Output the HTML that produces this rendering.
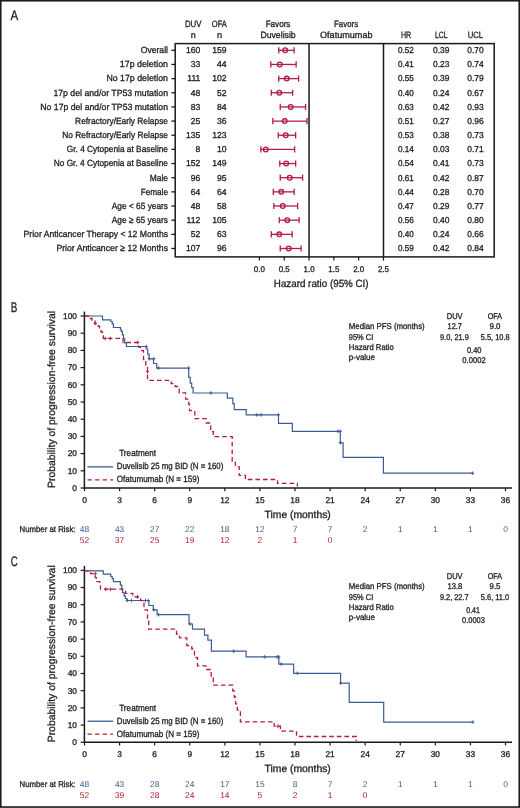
<!DOCTYPE html>
<html><head><meta charset="utf-8"><title>Figure</title>
<style>
html,body{margin:0;padding:0;background:#fff;}
body{width:520px;height:808px;overflow:hidden;}
svg{display:block;font-family:"Liberation Sans", sans-serif;will-change:transform;text-rendering:geometricPrecision;}
text{stroke-width:0.3px;}

</style></head><body>
<svg width="520" height="808" viewBox="0 0 520 808" fill="#1e1e1e" stroke="none">
<rect width="520" height="808" fill="#fff"/>
<text x="10.60" y="19.80" font-size="13.8" textLength="7.70" lengthAdjust="spacingAndGlyphs" stroke="#1e1e1e">A</text>
<text x="184.90" y="26.60" font-size="9.1" textLength="16.60" lengthAdjust="spacingAndGlyphs" stroke="#1e1e1e">DUV</text>
<text x="190.80" y="37.70" font-size="9.1" textLength="5.00" lengthAdjust="spacingAndGlyphs" stroke="#1e1e1e">n</text>
<text x="211.80" y="26.60" font-size="9.1" textLength="15.10" lengthAdjust="spacingAndGlyphs" stroke="#1e1e1e">OFA</text>
<text x="216.90" y="37.70" font-size="9.1" textLength="5.10" lengthAdjust="spacingAndGlyphs" stroke="#1e1e1e">n</text>
<text x="265.70" y="26.60" font-size="9.1" textLength="24.70" lengthAdjust="spacingAndGlyphs" stroke="#1e1e1e">Favors</text>
<text x="260.40" y="37.70" font-size="9.1" textLength="35.30" lengthAdjust="spacingAndGlyphs" stroke="#1e1e1e">Duvelisib</text>
<text x="334.00" y="26.60" font-size="9.1" textLength="24.10" lengthAdjust="spacingAndGlyphs" stroke="#1e1e1e">Favors</text>
<text x="320.00" y="37.70" font-size="9.1" textLength="52.50" lengthAdjust="spacingAndGlyphs" stroke="#1e1e1e">Ofatumumab</text>
<text x="400.90" y="37.70" font-size="9.1" textLength="10.30" lengthAdjust="spacingAndGlyphs" stroke="#1e1e1e">HR</text>
<text x="435.00" y="37.70" font-size="9.1" textLength="12.70" lengthAdjust="spacingAndGlyphs" stroke="#1e1e1e">LCL</text>
<text x="467.70" y="37.70" font-size="9.1" textLength="15.40" lengthAdjust="spacingAndGlyphs" stroke="#1e1e1e">UCL</text>
<text x="140.70" y="53.10" font-size="9.0" textLength="27.30" lengthAdjust="spacingAndGlyphs" stroke="#1e1e1e">Overall</text>
<text x="200.30" y="53.10" font-size="8.6" text-anchor="end" stroke="#1e1e1e">160</text>
<text x="226.50" y="53.10" font-size="8.6" text-anchor="end" stroke="#1e1e1e">159</text>
<text x="405.90" y="53.10" font-size="8.6" text-anchor="middle" textLength="15.80" lengthAdjust="spacingAndGlyphs" stroke="#1e1e1e">0.52</text>
<text x="441.30" y="53.10" font-size="8.6" text-anchor="middle" textLength="16.40" lengthAdjust="spacingAndGlyphs" stroke="#1e1e1e">0.39</text>
<text x="475.50" y="53.10" font-size="8.6" text-anchor="middle" textLength="16.40" lengthAdjust="spacingAndGlyphs" stroke="#1e1e1e">0.70</text>
<line x1="171.40" y1="50.30" x2="175.20" y2="50.30" stroke="#1a1a1a" stroke-width="1.3"/>
<g stroke="#b51a45" stroke-width="1.3" fill="none"><line x1="278.76" y1="50.30" x2="294.15" y2="50.30"/><line x1="278.76" y1="47.20" x2="278.76" y2="53.40"/><line x1="294.15" y1="47.20" x2="294.15" y2="53.40"/><circle cx="285.21" cy="50.30" r="2.35"/></g>
<text x="119.80" y="67.26" font-size="9.0" textLength="48.20" lengthAdjust="spacingAndGlyphs" stroke="#1e1e1e">17p deletion</text>
<text x="200.30" y="67.26" font-size="8.6" text-anchor="end" stroke="#1e1e1e">33</text>
<text x="226.50" y="67.26" font-size="8.6" text-anchor="end" stroke="#1e1e1e">44</text>
<text x="405.90" y="67.26" font-size="8.6" text-anchor="middle" textLength="15.80" lengthAdjust="spacingAndGlyphs" stroke="#1e1e1e">0.41</text>
<text x="441.30" y="67.26" font-size="8.6" text-anchor="middle" textLength="16.40" lengthAdjust="spacingAndGlyphs" stroke="#1e1e1e">0.23</text>
<text x="475.50" y="67.26" font-size="8.6" text-anchor="middle" textLength="16.40" lengthAdjust="spacingAndGlyphs" stroke="#1e1e1e">0.74</text>
<line x1="171.40" y1="64.46" x2="175.20" y2="64.46" stroke="#1a1a1a" stroke-width="1.3"/>
<g stroke="#b51a45" stroke-width="1.3" fill="none"><line x1="270.82" y1="64.46" x2="296.13" y2="64.46"/><line x1="270.82" y1="61.36" x2="270.82" y2="67.56"/><line x1="296.13" y1="61.36" x2="296.13" y2="67.56"/><circle cx="279.75" cy="64.46" r="2.35"/></g>
<text x="106.40" y="81.41" font-size="9.0" textLength="61.60" lengthAdjust="spacingAndGlyphs" stroke="#1e1e1e">No 17p deletion</text>
<text x="200.30" y="81.41" font-size="8.6" text-anchor="end" stroke="#1e1e1e">111</text>
<text x="226.50" y="81.41" font-size="8.6" text-anchor="end" stroke="#1e1e1e">102</text>
<text x="405.90" y="81.41" font-size="8.6" text-anchor="middle" textLength="15.80" lengthAdjust="spacingAndGlyphs" stroke="#1e1e1e">0.55</text>
<text x="441.30" y="81.41" font-size="8.6" text-anchor="middle" textLength="16.40" lengthAdjust="spacingAndGlyphs" stroke="#1e1e1e">0.39</text>
<text x="475.50" y="81.41" font-size="8.6" text-anchor="middle" textLength="16.40" lengthAdjust="spacingAndGlyphs" stroke="#1e1e1e">0.79</text>
<line x1="171.40" y1="78.61" x2="175.20" y2="78.61" stroke="#1a1a1a" stroke-width="1.3"/>
<g stroke="#b51a45" stroke-width="1.3" fill="none"><line x1="278.76" y1="78.61" x2="298.62" y2="78.61"/><line x1="278.76" y1="75.51" x2="278.76" y2="81.71"/><line x1="298.62" y1="75.51" x2="298.62" y2="81.71"/><circle cx="286.70" cy="78.61" r="2.35"/></g>
<text x="53.40" y="95.57" font-size="9.0" textLength="114.60" lengthAdjust="spacingAndGlyphs" stroke="#1e1e1e">17p del and/or TP53 mutation</text>
<text x="200.30" y="95.57" font-size="8.6" text-anchor="end" stroke="#1e1e1e">48</text>
<text x="226.50" y="95.57" font-size="8.6" text-anchor="end" stroke="#1e1e1e">52</text>
<text x="405.90" y="95.57" font-size="8.6" text-anchor="middle" textLength="15.80" lengthAdjust="spacingAndGlyphs" stroke="#1e1e1e">0.40</text>
<text x="441.30" y="95.57" font-size="8.6" text-anchor="middle" textLength="16.40" lengthAdjust="spacingAndGlyphs" stroke="#1e1e1e">0.24</text>
<text x="475.50" y="95.57" font-size="8.6" text-anchor="middle" textLength="16.40" lengthAdjust="spacingAndGlyphs" stroke="#1e1e1e">0.67</text>
<line x1="171.40" y1="92.77" x2="175.20" y2="92.77" stroke="#1a1a1a" stroke-width="1.3"/>
<g stroke="#b51a45" stroke-width="1.3" fill="none"><line x1="271.31" y1="92.77" x2="292.66" y2="92.77"/><line x1="271.31" y1="89.67" x2="271.31" y2="95.87"/><line x1="292.66" y1="89.67" x2="292.66" y2="95.87"/><circle cx="279.26" cy="92.77" r="2.35"/></g>
<text x="40.30" y="109.72" font-size="9.0" textLength="127.70" lengthAdjust="spacingAndGlyphs" stroke="#1e1e1e">No 17p del and/or TP53 mutation</text>
<text x="200.30" y="109.72" font-size="8.6" text-anchor="end" stroke="#1e1e1e">83</text>
<text x="226.50" y="109.72" font-size="8.6" text-anchor="end" stroke="#1e1e1e">84</text>
<text x="405.90" y="109.72" font-size="8.6" text-anchor="middle" textLength="15.80" lengthAdjust="spacingAndGlyphs" stroke="#1e1e1e">0.63</text>
<text x="441.30" y="109.72" font-size="8.6" text-anchor="middle" textLength="16.40" lengthAdjust="spacingAndGlyphs" stroke="#1e1e1e">0.42</text>
<text x="475.50" y="109.72" font-size="8.6" text-anchor="middle" textLength="16.40" lengthAdjust="spacingAndGlyphs" stroke="#1e1e1e">0.93</text>
<line x1="171.40" y1="106.92" x2="175.20" y2="106.92" stroke="#1a1a1a" stroke-width="1.3"/>
<g stroke="#b51a45" stroke-width="1.3" fill="none"><line x1="280.25" y1="106.92" x2="305.57" y2="106.92"/><line x1="280.25" y1="103.82" x2="280.25" y2="110.02"/><line x1="305.57" y1="103.82" x2="305.57" y2="110.02"/><circle cx="290.67" cy="106.92" r="2.35"/></g>
<text x="75.10" y="123.88" font-size="9.0" textLength="92.90" lengthAdjust="spacingAndGlyphs" stroke="#1e1e1e">Refractory/Early Relapse</text>
<text x="200.30" y="123.88" font-size="8.6" text-anchor="end" stroke="#1e1e1e">25</text>
<text x="226.50" y="123.88" font-size="8.6" text-anchor="end" stroke="#1e1e1e">36</text>
<text x="405.90" y="123.88" font-size="8.6" text-anchor="middle" textLength="15.80" lengthAdjust="spacingAndGlyphs" stroke="#1e1e1e">0.51</text>
<text x="441.30" y="123.88" font-size="8.6" text-anchor="middle" textLength="16.40" lengthAdjust="spacingAndGlyphs" stroke="#1e1e1e">0.27</text>
<text x="475.50" y="123.88" font-size="8.6" text-anchor="middle" textLength="16.40" lengthAdjust="spacingAndGlyphs" stroke="#1e1e1e">0.96</text>
<line x1="171.40" y1="121.08" x2="175.20" y2="121.08" stroke="#1a1a1a" stroke-width="1.3"/>
<g stroke="#b51a45" stroke-width="1.3" fill="none"><line x1="272.80" y1="121.08" x2="307.05" y2="121.08"/><line x1="272.80" y1="117.98" x2="272.80" y2="124.18"/><line x1="307.05" y1="117.98" x2="307.05" y2="124.18"/><circle cx="284.72" cy="121.08" r="2.35"/></g>
<text x="62.30" y="138.04" font-size="9.0" textLength="105.70" lengthAdjust="spacingAndGlyphs" stroke="#1e1e1e">No Refractory/Early Relapse</text>
<text x="200.30" y="138.04" font-size="8.6" text-anchor="end" stroke="#1e1e1e">135</text>
<text x="226.50" y="138.04" font-size="8.6" text-anchor="end" stroke="#1e1e1e">123</text>
<text x="405.90" y="138.04" font-size="8.6" text-anchor="middle" textLength="15.80" lengthAdjust="spacingAndGlyphs" stroke="#1e1e1e">0.53</text>
<text x="441.30" y="138.04" font-size="8.6" text-anchor="middle" textLength="16.40" lengthAdjust="spacingAndGlyphs" stroke="#1e1e1e">0.38</text>
<text x="475.50" y="138.04" font-size="8.6" text-anchor="middle" textLength="16.40" lengthAdjust="spacingAndGlyphs" stroke="#1e1e1e">0.73</text>
<line x1="171.40" y1="135.24" x2="175.20" y2="135.24" stroke="#1a1a1a" stroke-width="1.3"/>
<g stroke="#b51a45" stroke-width="1.3" fill="none"><line x1="278.26" y1="135.24" x2="295.64" y2="135.24"/><line x1="278.26" y1="132.14" x2="278.26" y2="138.34"/><line x1="295.64" y1="132.14" x2="295.64" y2="138.34"/><circle cx="285.71" cy="135.24" r="2.35"/></g>
<text x="66.80" y="152.19" font-size="9.0" textLength="101.20" lengthAdjust="spacingAndGlyphs" stroke="#1e1e1e">Gr. 4 Cytopenia at Baseline</text>
<text x="200.30" y="152.19" font-size="8.6" text-anchor="end" stroke="#1e1e1e">8</text>
<text x="226.50" y="152.19" font-size="8.6" text-anchor="end" stroke="#1e1e1e">10</text>
<text x="405.90" y="152.19" font-size="8.6" text-anchor="middle" textLength="15.80" lengthAdjust="spacingAndGlyphs" stroke="#1e1e1e">0.14</text>
<text x="441.30" y="152.19" font-size="8.6" text-anchor="middle" textLength="16.40" lengthAdjust="spacingAndGlyphs" stroke="#1e1e1e">0.03</text>
<text x="475.50" y="152.19" font-size="8.6" text-anchor="middle" textLength="16.40" lengthAdjust="spacingAndGlyphs" stroke="#1e1e1e">0.71</text>
<line x1="171.40" y1="149.39" x2="175.20" y2="149.39" stroke="#1a1a1a" stroke-width="1.3"/>
<g stroke="#b51a45" stroke-width="1.3" fill="none"><line x1="260.89" y1="149.39" x2="294.64" y2="149.39"/><line x1="260.89" y1="146.29" x2="260.89" y2="152.49"/><line x1="294.64" y1="146.29" x2="294.64" y2="152.49"/><circle cx="265.75" cy="149.39" r="2.35"/></g>
<text x="53.70" y="166.35" font-size="9.0" textLength="114.30" lengthAdjust="spacingAndGlyphs" stroke="#1e1e1e">No Gr. 4 Cytopenia at Baseline</text>
<text x="200.30" y="166.35" font-size="8.6" text-anchor="end" stroke="#1e1e1e">152</text>
<text x="226.50" y="166.35" font-size="8.6" text-anchor="end" stroke="#1e1e1e">149</text>
<text x="405.90" y="166.35" font-size="8.6" text-anchor="middle" textLength="15.80" lengthAdjust="spacingAndGlyphs" stroke="#1e1e1e">0.54</text>
<text x="441.30" y="166.35" font-size="8.6" text-anchor="middle" textLength="16.40" lengthAdjust="spacingAndGlyphs" stroke="#1e1e1e">0.41</text>
<text x="475.50" y="166.35" font-size="8.6" text-anchor="middle" textLength="16.40" lengthAdjust="spacingAndGlyphs" stroke="#1e1e1e">0.73</text>
<line x1="171.40" y1="163.55" x2="175.20" y2="163.55" stroke="#1a1a1a" stroke-width="1.3"/>
<g stroke="#b51a45" stroke-width="1.3" fill="none"><line x1="279.75" y1="163.55" x2="295.64" y2="163.55"/><line x1="279.75" y1="160.45" x2="279.75" y2="166.65"/><line x1="295.64" y1="160.45" x2="295.64" y2="166.65"/><circle cx="286.21" cy="163.55" r="2.35"/></g>
<text x="149.70" y="180.50" font-size="9.0" textLength="18.30" lengthAdjust="spacingAndGlyphs" stroke="#1e1e1e">Male</text>
<text x="200.30" y="180.50" font-size="8.6" text-anchor="end" stroke="#1e1e1e">96</text>
<text x="226.50" y="180.50" font-size="8.6" text-anchor="end" stroke="#1e1e1e">95</text>
<text x="405.90" y="180.50" font-size="8.6" text-anchor="middle" textLength="15.80" lengthAdjust="spacingAndGlyphs" stroke="#1e1e1e">0.61</text>
<text x="441.30" y="180.50" font-size="8.6" text-anchor="middle" textLength="16.40" lengthAdjust="spacingAndGlyphs" stroke="#1e1e1e">0.42</text>
<text x="475.50" y="180.50" font-size="8.6" text-anchor="middle" textLength="16.40" lengthAdjust="spacingAndGlyphs" stroke="#1e1e1e">0.87</text>
<line x1="171.40" y1="177.70" x2="175.20" y2="177.70" stroke="#1a1a1a" stroke-width="1.3"/>
<g stroke="#b51a45" stroke-width="1.3" fill="none"><line x1="280.25" y1="177.70" x2="302.59" y2="177.70"/><line x1="280.25" y1="174.60" x2="280.25" y2="180.80"/><line x1="302.59" y1="174.60" x2="302.59" y2="180.80"/><circle cx="289.68" cy="177.70" r="2.35"/></g>
<text x="140.70" y="194.66" font-size="9.0" textLength="27.30" lengthAdjust="spacingAndGlyphs" stroke="#1e1e1e">Female</text>
<text x="200.30" y="194.66" font-size="8.6" text-anchor="end" stroke="#1e1e1e">64</text>
<text x="226.50" y="194.66" font-size="8.6" text-anchor="end" stroke="#1e1e1e">64</text>
<text x="405.90" y="194.66" font-size="8.6" text-anchor="middle" textLength="15.80" lengthAdjust="spacingAndGlyphs" stroke="#1e1e1e">0.44</text>
<text x="441.30" y="194.66" font-size="8.6" text-anchor="middle" textLength="16.40" lengthAdjust="spacingAndGlyphs" stroke="#1e1e1e">0.28</text>
<text x="475.50" y="194.66" font-size="8.6" text-anchor="middle" textLength="16.40" lengthAdjust="spacingAndGlyphs" stroke="#1e1e1e">0.70</text>
<line x1="171.40" y1="191.86" x2="175.20" y2="191.86" stroke="#1a1a1a" stroke-width="1.3"/>
<g stroke="#b51a45" stroke-width="1.3" fill="none"><line x1="273.30" y1="191.86" x2="294.15" y2="191.86"/><line x1="273.30" y1="188.76" x2="273.30" y2="194.96"/><line x1="294.15" y1="188.76" x2="294.15" y2="194.96"/><circle cx="281.24" cy="191.86" r="2.35"/></g>
<text x="111.80" y="208.82" font-size="9.0" textLength="56.20" lengthAdjust="spacingAndGlyphs" stroke="#1e1e1e">Age &lt; 65 years</text>
<text x="200.30" y="208.82" font-size="8.6" text-anchor="end" stroke="#1e1e1e">48</text>
<text x="226.50" y="208.82" font-size="8.6" text-anchor="end" stroke="#1e1e1e">58</text>
<text x="405.90" y="208.82" font-size="8.6" text-anchor="middle" textLength="15.80" lengthAdjust="spacingAndGlyphs" stroke="#1e1e1e">0.47</text>
<text x="441.30" y="208.82" font-size="8.6" text-anchor="middle" textLength="16.40" lengthAdjust="spacingAndGlyphs" stroke="#1e1e1e">0.29</text>
<text x="475.50" y="208.82" font-size="8.6" text-anchor="middle" textLength="16.40" lengthAdjust="spacingAndGlyphs" stroke="#1e1e1e">0.77</text>
<line x1="171.40" y1="206.02" x2="175.20" y2="206.02" stroke="#1a1a1a" stroke-width="1.3"/>
<g stroke="#b51a45" stroke-width="1.3" fill="none"><line x1="273.80" y1="206.02" x2="297.62" y2="206.02"/><line x1="273.80" y1="202.92" x2="273.80" y2="209.12"/><line x1="297.62" y1="202.92" x2="297.62" y2="209.12"/><circle cx="282.73" cy="206.02" r="2.35"/></g>
<text x="111.80" y="222.97" font-size="9.0" textLength="56.20" lengthAdjust="spacingAndGlyphs" stroke="#1e1e1e">Age ≥ 65 years</text>
<text x="200.30" y="222.97" font-size="8.6" text-anchor="end" stroke="#1e1e1e">112</text>
<text x="226.50" y="222.97" font-size="8.6" text-anchor="end" stroke="#1e1e1e">105</text>
<text x="405.90" y="222.97" font-size="8.6" text-anchor="middle" textLength="15.80" lengthAdjust="spacingAndGlyphs" stroke="#1e1e1e">0.56</text>
<text x="441.30" y="222.97" font-size="8.6" text-anchor="middle" textLength="16.40" lengthAdjust="spacingAndGlyphs" stroke="#1e1e1e">0.40</text>
<text x="475.50" y="222.97" font-size="8.6" text-anchor="middle" textLength="16.40" lengthAdjust="spacingAndGlyphs" stroke="#1e1e1e">0.80</text>
<line x1="171.40" y1="220.17" x2="175.20" y2="220.17" stroke="#1a1a1a" stroke-width="1.3"/>
<g stroke="#b51a45" stroke-width="1.3" fill="none"><line x1="279.26" y1="220.17" x2="299.11" y2="220.17"/><line x1="279.26" y1="217.07" x2="279.26" y2="223.27"/><line x1="299.11" y1="217.07" x2="299.11" y2="223.27"/><circle cx="287.20" cy="220.17" r="2.35"/></g>
<text x="23.60" y="237.13" font-size="9.0" textLength="144.40" lengthAdjust="spacingAndGlyphs" stroke="#1e1e1e">Prior Anticancer Therapy &lt; 12 Months</text>
<text x="200.30" y="237.13" font-size="8.6" text-anchor="end" stroke="#1e1e1e">52</text>
<text x="226.50" y="237.13" font-size="8.6" text-anchor="end" stroke="#1e1e1e">63</text>
<text x="405.90" y="237.13" font-size="8.6" text-anchor="middle" textLength="15.80" lengthAdjust="spacingAndGlyphs" stroke="#1e1e1e">0.40</text>
<text x="441.30" y="237.13" font-size="8.6" text-anchor="middle" textLength="16.40" lengthAdjust="spacingAndGlyphs" stroke="#1e1e1e">0.24</text>
<text x="475.50" y="237.13" font-size="8.6" text-anchor="middle" textLength="16.40" lengthAdjust="spacingAndGlyphs" stroke="#1e1e1e">0.66</text>
<line x1="171.40" y1="234.33" x2="175.20" y2="234.33" stroke="#1a1a1a" stroke-width="1.3"/>
<g stroke="#b51a45" stroke-width="1.3" fill="none"><line x1="271.31" y1="234.33" x2="292.16" y2="234.33"/><line x1="271.31" y1="231.23" x2="271.31" y2="237.43"/><line x1="292.16" y1="231.23" x2="292.16" y2="237.43"/><circle cx="279.26" cy="234.33" r="2.35"/></g>
<text x="56.40" y="251.28" font-size="9.0" textLength="111.60" lengthAdjust="spacingAndGlyphs" stroke="#1e1e1e">Prior Anticancer ≥ 12 Months</text>
<text x="200.30" y="251.28" font-size="8.6" text-anchor="end" stroke="#1e1e1e">107</text>
<text x="226.50" y="251.28" font-size="8.6" text-anchor="end" stroke="#1e1e1e">96</text>
<text x="405.90" y="251.28" font-size="8.6" text-anchor="middle" textLength="15.80" lengthAdjust="spacingAndGlyphs" stroke="#1e1e1e">0.59</text>
<text x="441.30" y="251.28" font-size="8.6" text-anchor="middle" textLength="16.40" lengthAdjust="spacingAndGlyphs" stroke="#1e1e1e">0.42</text>
<text x="475.50" y="251.28" font-size="8.6" text-anchor="middle" textLength="16.40" lengthAdjust="spacingAndGlyphs" stroke="#1e1e1e">0.84</text>
<line x1="171.40" y1="248.48" x2="175.20" y2="248.48" stroke="#1a1a1a" stroke-width="1.3"/>
<g stroke="#b51a45" stroke-width="1.3" fill="none"><line x1="280.25" y1="248.48" x2="301.10" y2="248.48"/><line x1="280.25" y1="245.38" x2="280.25" y2="251.58"/><line x1="301.10" y1="245.38" x2="301.10" y2="251.58"/><circle cx="288.69" cy="248.48" r="2.35"/></g>
<rect x="175.2" y="43.6" width="319.00" height="213.30" fill="none" stroke="#1a1a1a" stroke-width="1.5"/>
<line x1="309.04" y1="43.60" x2="309.04" y2="256.90" stroke="#1a1a1a" stroke-width="1.5"/>
<line x1="383.50" y1="43.60" x2="383.50" y2="256.90" stroke="#1a1a1a" stroke-width="1.5"/>
<line x1="259.40" y1="256.90" x2="259.40" y2="260.60" stroke="#1a1a1a" stroke-width="1.2"/>
<text x="259.40" y="272.00" font-size="8.4" text-anchor="middle" textLength="11.10" lengthAdjust="spacingAndGlyphs" stroke="#1e1e1e">0.0</text>
<line x1="284.22" y1="256.90" x2="284.22" y2="260.60" stroke="#1a1a1a" stroke-width="1.2"/>
<text x="284.22" y="272.00" font-size="8.4" text-anchor="middle" textLength="11.10" lengthAdjust="spacingAndGlyphs" stroke="#1e1e1e">0.5</text>
<line x1="309.04" y1="256.90" x2="309.04" y2="260.60" stroke="#1a1a1a" stroke-width="1.2"/>
<text x="309.04" y="272.00" font-size="8.4" text-anchor="middle" textLength="11.10" lengthAdjust="spacingAndGlyphs" stroke="#1e1e1e">1.0</text>
<line x1="333.86" y1="256.90" x2="333.86" y2="260.60" stroke="#1a1a1a" stroke-width="1.2"/>
<text x="333.86" y="272.00" font-size="8.4" text-anchor="middle" textLength="11.10" lengthAdjust="spacingAndGlyphs" stroke="#1e1e1e">1.5</text>
<line x1="358.68" y1="256.90" x2="358.68" y2="260.60" stroke="#1a1a1a" stroke-width="1.2"/>
<text x="358.68" y="272.00" font-size="8.4" text-anchor="middle" textLength="11.10" lengthAdjust="spacingAndGlyphs" stroke="#1e1e1e">2.0</text>
<line x1="383.50" y1="256.90" x2="383.50" y2="260.60" stroke="#1a1a1a" stroke-width="1.2"/>
<text x="383.50" y="272.00" font-size="8.4" text-anchor="middle" textLength="11.10" lengthAdjust="spacingAndGlyphs" stroke="#1e1e1e">2.5</text>
<text x="273.80" y="287.00" font-size="10.4" textLength="94.80" lengthAdjust="spacingAndGlyphs" stroke="#1e1e1e">Hazard ratio (95% CI)</text>
<text x="10.80" y="311.70" font-size="13.8" textLength="6.60" lengthAdjust="spacingAndGlyphs" stroke="#1e1e1e">B</text>
<text x="0.00" y="0.00" font-size="10.5" textLength="177.00" lengthAdjust="spacingAndGlyphs" stroke="#1e1e1e" transform="translate(54.6,488.00) rotate(-90)">Probability of progression-free survival</text>
<line x1="84.40" y1="311.60" x2="84.40" y2="488.70" stroke="#1a1a1a" stroke-width="1.5"/>
<line x1="83.70" y1="488.00" x2="512.00" y2="488.00" stroke="#1a1a1a" stroke-width="1.5"/>
<line x1="80.60" y1="488.00" x2="84.40" y2="488.00" stroke="#1a1a1a" stroke-width="1.2"/>
<text x="77.00" y="490.85" font-size="8.4" text-anchor="end" stroke="#1e1e1e">0</text>
<line x1="80.60" y1="470.80" x2="84.40" y2="470.80" stroke="#1a1a1a" stroke-width="1.2"/>
<text x="77.00" y="473.65" font-size="8.4" text-anchor="end" stroke="#1e1e1e">10</text>
<line x1="80.60" y1="453.60" x2="84.40" y2="453.60" stroke="#1a1a1a" stroke-width="1.2"/>
<text x="77.00" y="456.45" font-size="8.4" text-anchor="end" stroke="#1e1e1e">20</text>
<line x1="80.60" y1="436.40" x2="84.40" y2="436.40" stroke="#1a1a1a" stroke-width="1.2"/>
<text x="77.00" y="439.25" font-size="8.4" text-anchor="end" stroke="#1e1e1e">30</text>
<line x1="80.60" y1="419.20" x2="84.40" y2="419.20" stroke="#1a1a1a" stroke-width="1.2"/>
<text x="77.00" y="422.05" font-size="8.4" text-anchor="end" stroke="#1e1e1e">40</text>
<line x1="80.60" y1="402.00" x2="84.40" y2="402.00" stroke="#1a1a1a" stroke-width="1.2"/>
<text x="77.00" y="404.85" font-size="8.4" text-anchor="end" stroke="#1e1e1e">50</text>
<line x1="80.60" y1="384.80" x2="84.40" y2="384.80" stroke="#1a1a1a" stroke-width="1.2"/>
<text x="77.00" y="387.65" font-size="8.4" text-anchor="end" stroke="#1e1e1e">60</text>
<line x1="80.60" y1="367.60" x2="84.40" y2="367.60" stroke="#1a1a1a" stroke-width="1.2"/>
<text x="77.00" y="370.45" font-size="8.4" text-anchor="end" stroke="#1e1e1e">70</text>
<line x1="80.60" y1="350.40" x2="84.40" y2="350.40" stroke="#1a1a1a" stroke-width="1.2"/>
<text x="77.00" y="353.25" font-size="8.4" text-anchor="end" stroke="#1e1e1e">80</text>
<line x1="80.60" y1="333.20" x2="84.40" y2="333.20" stroke="#1a1a1a" stroke-width="1.2"/>
<text x="77.00" y="336.05" font-size="8.4" text-anchor="end" stroke="#1e1e1e">90</text>
<line x1="80.60" y1="316.00" x2="84.40" y2="316.00" stroke="#1a1a1a" stroke-width="1.2"/>
<text x="77.00" y="318.85" font-size="8.4" text-anchor="end" stroke="#1e1e1e">100</text>
<line x1="84.50" y1="488.00" x2="84.50" y2="491.20" stroke="#1a1a1a" stroke-width="1.2"/>
<text x="84.50" y="502.60" font-size="8.4" text-anchor="middle" stroke="#1e1e1e">0</text>
<line x1="119.59" y1="488.00" x2="119.59" y2="491.20" stroke="#1a1a1a" stroke-width="1.2"/>
<text x="119.59" y="502.60" font-size="8.4" text-anchor="middle" stroke="#1e1e1e">3</text>
<line x1="154.67" y1="488.00" x2="154.67" y2="491.20" stroke="#1a1a1a" stroke-width="1.2"/>
<text x="154.67" y="502.60" font-size="8.4" text-anchor="middle" stroke="#1e1e1e">6</text>
<line x1="189.75" y1="488.00" x2="189.75" y2="491.20" stroke="#1a1a1a" stroke-width="1.2"/>
<text x="189.75" y="502.60" font-size="8.4" text-anchor="middle" stroke="#1e1e1e">9</text>
<line x1="224.84" y1="488.00" x2="224.84" y2="491.20" stroke="#1a1a1a" stroke-width="1.2"/>
<text x="224.84" y="502.60" font-size="8.4" text-anchor="middle" stroke="#1e1e1e">12</text>
<line x1="259.93" y1="488.00" x2="259.93" y2="491.20" stroke="#1a1a1a" stroke-width="1.2"/>
<text x="259.93" y="502.60" font-size="8.4" text-anchor="middle" stroke="#1e1e1e">15</text>
<line x1="295.01" y1="488.00" x2="295.01" y2="491.20" stroke="#1a1a1a" stroke-width="1.2"/>
<text x="295.01" y="502.60" font-size="8.4" text-anchor="middle" stroke="#1e1e1e">18</text>
<line x1="330.10" y1="488.00" x2="330.10" y2="491.20" stroke="#1a1a1a" stroke-width="1.2"/>
<text x="330.10" y="502.60" font-size="8.4" text-anchor="middle" stroke="#1e1e1e">21</text>
<line x1="365.18" y1="488.00" x2="365.18" y2="491.20" stroke="#1a1a1a" stroke-width="1.2"/>
<text x="365.18" y="502.60" font-size="8.4" text-anchor="middle" stroke="#1e1e1e">24</text>
<line x1="400.26" y1="488.00" x2="400.26" y2="491.20" stroke="#1a1a1a" stroke-width="1.2"/>
<text x="400.26" y="502.60" font-size="8.4" text-anchor="middle" stroke="#1e1e1e">27</text>
<line x1="435.35" y1="488.00" x2="435.35" y2="491.20" stroke="#1a1a1a" stroke-width="1.2"/>
<text x="435.35" y="502.60" font-size="8.4" text-anchor="middle" stroke="#1e1e1e">30</text>
<line x1="470.44" y1="488.00" x2="470.44" y2="491.20" stroke="#1a1a1a" stroke-width="1.2"/>
<text x="470.44" y="502.60" font-size="8.4" text-anchor="middle" stroke="#1e1e1e">33</text>
<line x1="505.52" y1="488.00" x2="505.52" y2="491.20" stroke="#1a1a1a" stroke-width="1.2"/>
<text x="505.52" y="502.60" font-size="8.4" text-anchor="middle" stroke="#1e1e1e">36</text>
<text x="264.60" y="517.80" font-size="10.4" textLength="66.20" lengthAdjust="spacingAndGlyphs" stroke="#1e1e1e">Time (months)</text>
<text x="119.20" y="456.40" font-size="9.0" textLength="36.90" lengthAdjust="spacingAndGlyphs" stroke="#1e1e1e">Treatment</text>
<line x1="87.50" y1="466.90" x2="113.10" y2="466.90" stroke="#3d5b94" stroke-width="1.3"/>
<line x1="87.50" y1="479.80" x2="113.10" y2="479.80" stroke="#b51a45" stroke-width="1.3" stroke-dasharray="4.3 3.3"/>
<text x="116.70" y="469.30" font-size="9.0" textLength="106.60" lengthAdjust="spacingAndGlyphs" stroke="#1e1e1e">Duvelisib 25 mg BID (N = 160)</text>
<text x="116.70" y="482.20" font-size="9.0" textLength="82.70" lengthAdjust="spacingAndGlyphs" stroke="#1e1e1e">Ofatumumab (N = 159)</text>
<path d="M84.5,316 H102.5 V319.8 H110.8 V321.5 H112.2 V323.8 H113.4 V327.5 H120.4 V329.4 H121.2 V331.3 H122.4 V334.8 H123.5 V338.6 H124.7 V342.9 H126.4 V346.5 H146.2 V349 H147.7 V354.2 H149.1 V358.8 H153.5 V363.5 H156.7 V368.1 H188.7 V377.3 H190.2 V383.1 H191.7 V387.7 H193.1 V393 H227.3 V398.2 H232.8 V403.7 H234.2 V409.7 H246.2 V414.9 H278.5 V423.4 H292.3 V431.3 H340.3 V442.8 H343.1 V457.4 H383.4 V473.2 H472.7" fill="none" stroke="#3d5b94" stroke-width="1.2"/>
<path d="M84.5,316 H89.5 V318.5 H92 V321 H95 V323.5 H97 V326 H99.5 V329 H101 V332 H102.5 V335 H103.3 V338.3 H123 V342.5 H138.5 V347 H140.5 V350.6 H143.5 V359.5 H145.8 V366 H147.5 V380.3 H171.2 V383.7 H175.2 V386.5 H179.2 V392.9 H185.6 V399.2 H188.7 V404.2 H189.5 V410.6 H194.8 V418.7 H206.3 V423 H210.7 V431.7 H213.3 V436.7 H232.2 V462.3 H235.4 V466.9 H239.2 V475.4 H245.4 V479.5 H277.5 V483.4 H297.4 V486.5" fill="none" stroke="#b51a45" stroke-width="1.3" stroke-dasharray="4.6 3.0"/>
<path d="M146.20,344.70V348.30M144.60,346.50H147.80" stroke="#3d5b94" stroke-width="0.95" fill="none"/>
<path d="M149.20,356.90V360.50M147.60,358.70H150.80" stroke="#3d5b94" stroke-width="0.95" fill="none"/>
<path d="M153.90,356.90V360.50M152.30,358.70H155.50" stroke="#3d5b94" stroke-width="0.95" fill="none"/>
<path d="M158.70,366.30V369.90M157.10,368.10H160.30" stroke="#3d5b94" stroke-width="0.95" fill="none"/>
<path d="M188.70,366.30V369.90M187.10,368.10H190.30" stroke="#3d5b94" stroke-width="0.95" fill="none"/>
<path d="M210.90,391.20V394.80M209.30,393.00H212.50" stroke="#3d5b94" stroke-width="0.95" fill="none"/>
<path d="M256.80,413.10V416.70M255.20,414.90H258.40" stroke="#3d5b94" stroke-width="0.95" fill="none"/>
<path d="M260.90,413.10V416.70M259.30,414.90H262.50" stroke="#3d5b94" stroke-width="0.95" fill="none"/>
<path d="M278.50,413.10V416.70M276.90,414.90H280.10" stroke="#3d5b94" stroke-width="0.95" fill="none"/>
<path d="M338.00,429.50V433.10M336.40,431.30H339.60" stroke="#3d5b94" stroke-width="0.95" fill="none"/>
<path d="M340.30,429.50V433.10M338.70,431.30H341.90" stroke="#3d5b94" stroke-width="0.95" fill="none"/>
<path d="M340.30,441.00V444.60M338.70,442.80H341.90" stroke="#3d5b94" stroke-width="0.95" fill="none"/>
<path d="M472.70,471.40V475.00M471.10,473.20H474.30" stroke="#3d5b94" stroke-width="0.95" fill="none"/>
<path d="M95.20,321.70V325.30M93.60,323.50H96.80" stroke="#b51a45" stroke-width="0.95" fill="none"/>
<path d="M105.20,336.70V340.30M103.60,338.50H106.80" stroke="#b51a45" stroke-width="0.95" fill="none"/>
<path d="M110.30,336.70V340.30M108.70,338.50H111.90" stroke="#b51a45" stroke-width="0.95" fill="none"/>
<path d="M137.60,340.70V344.30M136.00,342.50H139.20" stroke="#b51a45" stroke-width="0.95" fill="none"/>
<path d="M147.50,369.80V373.40M145.90,371.60H149.10" stroke="#b51a45" stroke-width="0.95" fill="none"/>
<text x="19.50" y="532.30" font-size="8.4" textLength="56.00" lengthAdjust="spacingAndGlyphs" stroke="#1e1e1e">Number at Risk:</text>
<text x="84.50" y="532.30" font-size="8.4" text-anchor="middle" fill="#3c5b9b">48</text>
<text x="119.59" y="532.30" font-size="8.4" text-anchor="middle" fill="#3c5b9b">43</text>
<text x="154.67" y="532.30" font-size="8.4" text-anchor="middle" fill="#3c5b9b">27</text>
<text x="189.75" y="532.30" font-size="8.4" text-anchor="middle" fill="#3c5b9b">22</text>
<text x="224.84" y="532.30" font-size="8.4" text-anchor="middle" fill="#3c5b9b">18</text>
<text x="259.93" y="532.30" font-size="8.4" text-anchor="middle" fill="#3c5b9b">12</text>
<text x="295.01" y="532.30" font-size="8.4" text-anchor="middle" fill="#3c5b9b">7</text>
<text x="330.10" y="532.30" font-size="8.4" text-anchor="middle" fill="#3c5b9b">7</text>
<text x="365.18" y="532.30" font-size="8.4" text-anchor="middle" fill="#3c5b9b">2</text>
<text x="400.26" y="532.30" font-size="8.4" text-anchor="middle" fill="#3c5b9b">1</text>
<text x="435.35" y="532.30" font-size="8.4" text-anchor="middle" fill="#3c5b9b">1</text>
<text x="470.44" y="532.30" font-size="8.4" text-anchor="middle" fill="#3c5b9b">1</text>
<text x="505.52" y="532.30" font-size="8.4" text-anchor="middle" fill="#3c5b9b">0</text>
<text x="84.50" y="543.30" font-size="8.4" text-anchor="middle" fill="#b3143f">52</text>
<text x="119.59" y="543.30" font-size="8.4" text-anchor="middle" fill="#b3143f">37</text>
<text x="154.67" y="543.30" font-size="8.4" text-anchor="middle" fill="#b3143f">25</text>
<text x="189.75" y="543.30" font-size="8.4" text-anchor="middle" fill="#b3143f">19</text>
<text x="224.84" y="543.30" font-size="8.4" text-anchor="middle" fill="#b3143f">12</text>
<text x="259.93" y="543.30" font-size="8.4" text-anchor="middle" fill="#b3143f">2</text>
<text x="295.01" y="543.30" font-size="8.4" text-anchor="middle" fill="#b3143f">1</text>
<text x="330.10" y="543.30" font-size="8.4" text-anchor="middle" fill="#b3143f">0</text>
<text x="446.80" y="318.70" font-size="8.4" textLength="15.80" lengthAdjust="spacingAndGlyphs" stroke="#1e1e1e">DUV</text>
<text x="487.70" y="318.70" font-size="8.4" textLength="14.30" lengthAdjust="spacingAndGlyphs" stroke="#1e1e1e">OFA</text>
<text x="348.80" y="329.10" font-size="8.4" textLength="75.90" lengthAdjust="spacingAndGlyphs" stroke="#1e1e1e">Median PFS (months)</text>
<text x="348.80" y="339.50" font-size="8.4" textLength="24.40" lengthAdjust="spacingAndGlyphs" stroke="#1e1e1e">95% CI</text>
<text x="348.80" y="349.80" font-size="8.4" textLength="45.10" lengthAdjust="spacingAndGlyphs" stroke="#1e1e1e">Hazard Ratio</text>
<text x="348.80" y="360.20" font-size="8.4" textLength="26.20" lengthAdjust="spacingAndGlyphs" stroke="#1e1e1e">p-value</text>
<text x="447.60" y="329.10" font-size="8.4" textLength="14.40" lengthAdjust="spacingAndGlyphs" stroke="#1e1e1e">12.7</text>
<text x="489.50" y="329.10" font-size="8.4" textLength="11.00" lengthAdjust="spacingAndGlyphs" stroke="#1e1e1e">9.0</text>
<text x="440.00" y="339.50" font-size="8.4" textLength="28.80" lengthAdjust="spacingAndGlyphs" stroke="#1e1e1e">9.0, 21.9</text>
<text x="480.80" y="339.50" font-size="8.4" textLength="28.90" lengthAdjust="spacingAndGlyphs" stroke="#1e1e1e">5.5, 10.8</text>
<text x="466.90" y="352.60" font-size="8.4" textLength="14.60" lengthAdjust="spacingAndGlyphs" stroke="#1e1e1e">0.40</text>
<text x="462.30" y="362.90" font-size="8.4" textLength="23.40" lengthAdjust="spacingAndGlyphs" stroke="#1e1e1e">0.0002</text>
<text x="10.80" y="566.00" font-size="13.8" textLength="7.00" lengthAdjust="spacingAndGlyphs" stroke="#1e1e1e">C</text>
<text x="0.00" y="0.00" font-size="10.5" textLength="177.00" lengthAdjust="spacingAndGlyphs" stroke="#1e1e1e" transform="translate(54.6,742.30) rotate(-90)">Probability of progression-free survival</text>
<line x1="84.40" y1="565.90" x2="84.40" y2="743.00" stroke="#1a1a1a" stroke-width="1.5"/>
<line x1="83.70" y1="742.30" x2="512.00" y2="742.30" stroke="#1a1a1a" stroke-width="1.5"/>
<line x1="80.60" y1="742.30" x2="84.40" y2="742.30" stroke="#1a1a1a" stroke-width="1.2"/>
<text x="77.00" y="745.15" font-size="8.4" text-anchor="end" stroke="#1e1e1e">0</text>
<line x1="80.60" y1="725.10" x2="84.40" y2="725.10" stroke="#1a1a1a" stroke-width="1.2"/>
<text x="77.00" y="727.95" font-size="8.4" text-anchor="end" stroke="#1e1e1e">10</text>
<line x1="80.60" y1="707.90" x2="84.40" y2="707.90" stroke="#1a1a1a" stroke-width="1.2"/>
<text x="77.00" y="710.75" font-size="8.4" text-anchor="end" stroke="#1e1e1e">20</text>
<line x1="80.60" y1="690.70" x2="84.40" y2="690.70" stroke="#1a1a1a" stroke-width="1.2"/>
<text x="77.00" y="693.55" font-size="8.4" text-anchor="end" stroke="#1e1e1e">30</text>
<line x1="80.60" y1="673.50" x2="84.40" y2="673.50" stroke="#1a1a1a" stroke-width="1.2"/>
<text x="77.00" y="676.35" font-size="8.4" text-anchor="end" stroke="#1e1e1e">40</text>
<line x1="80.60" y1="656.30" x2="84.40" y2="656.30" stroke="#1a1a1a" stroke-width="1.2"/>
<text x="77.00" y="659.15" font-size="8.4" text-anchor="end" stroke="#1e1e1e">50</text>
<line x1="80.60" y1="639.10" x2="84.40" y2="639.10" stroke="#1a1a1a" stroke-width="1.2"/>
<text x="77.00" y="641.95" font-size="8.4" text-anchor="end" stroke="#1e1e1e">60</text>
<line x1="80.60" y1="621.90" x2="84.40" y2="621.90" stroke="#1a1a1a" stroke-width="1.2"/>
<text x="77.00" y="624.75" font-size="8.4" text-anchor="end" stroke="#1e1e1e">70</text>
<line x1="80.60" y1="604.70" x2="84.40" y2="604.70" stroke="#1a1a1a" stroke-width="1.2"/>
<text x="77.00" y="607.55" font-size="8.4" text-anchor="end" stroke="#1e1e1e">80</text>
<line x1="80.60" y1="587.50" x2="84.40" y2="587.50" stroke="#1a1a1a" stroke-width="1.2"/>
<text x="77.00" y="590.35" font-size="8.4" text-anchor="end" stroke="#1e1e1e">90</text>
<line x1="80.60" y1="570.30" x2="84.40" y2="570.30" stroke="#1a1a1a" stroke-width="1.2"/>
<text x="77.00" y="573.15" font-size="8.4" text-anchor="end" stroke="#1e1e1e">100</text>
<line x1="84.50" y1="742.30" x2="84.50" y2="745.50" stroke="#1a1a1a" stroke-width="1.2"/>
<text x="84.50" y="756.90" font-size="8.4" text-anchor="middle" stroke="#1e1e1e">0</text>
<line x1="119.59" y1="742.30" x2="119.59" y2="745.50" stroke="#1a1a1a" stroke-width="1.2"/>
<text x="119.59" y="756.90" font-size="8.4" text-anchor="middle" stroke="#1e1e1e">3</text>
<line x1="154.67" y1="742.30" x2="154.67" y2="745.50" stroke="#1a1a1a" stroke-width="1.2"/>
<text x="154.67" y="756.90" font-size="8.4" text-anchor="middle" stroke="#1e1e1e">6</text>
<line x1="189.75" y1="742.30" x2="189.75" y2="745.50" stroke="#1a1a1a" stroke-width="1.2"/>
<text x="189.75" y="756.90" font-size="8.4" text-anchor="middle" stroke="#1e1e1e">9</text>
<line x1="224.84" y1="742.30" x2="224.84" y2="745.50" stroke="#1a1a1a" stroke-width="1.2"/>
<text x="224.84" y="756.90" font-size="8.4" text-anchor="middle" stroke="#1e1e1e">12</text>
<line x1="259.93" y1="742.30" x2="259.93" y2="745.50" stroke="#1a1a1a" stroke-width="1.2"/>
<text x="259.93" y="756.90" font-size="8.4" text-anchor="middle" stroke="#1e1e1e">15</text>
<line x1="295.01" y1="742.30" x2="295.01" y2="745.50" stroke="#1a1a1a" stroke-width="1.2"/>
<text x="295.01" y="756.90" font-size="8.4" text-anchor="middle" stroke="#1e1e1e">18</text>
<line x1="330.10" y1="742.30" x2="330.10" y2="745.50" stroke="#1a1a1a" stroke-width="1.2"/>
<text x="330.10" y="756.90" font-size="8.4" text-anchor="middle" stroke="#1e1e1e">21</text>
<line x1="365.18" y1="742.30" x2="365.18" y2="745.50" stroke="#1a1a1a" stroke-width="1.2"/>
<text x="365.18" y="756.90" font-size="8.4" text-anchor="middle" stroke="#1e1e1e">24</text>
<line x1="400.26" y1="742.30" x2="400.26" y2="745.50" stroke="#1a1a1a" stroke-width="1.2"/>
<text x="400.26" y="756.90" font-size="8.4" text-anchor="middle" stroke="#1e1e1e">27</text>
<line x1="435.35" y1="742.30" x2="435.35" y2="745.50" stroke="#1a1a1a" stroke-width="1.2"/>
<text x="435.35" y="756.90" font-size="8.4" text-anchor="middle" stroke="#1e1e1e">30</text>
<line x1="470.44" y1="742.30" x2="470.44" y2="745.50" stroke="#1a1a1a" stroke-width="1.2"/>
<text x="470.44" y="756.90" font-size="8.4" text-anchor="middle" stroke="#1e1e1e">33</text>
<line x1="505.52" y1="742.30" x2="505.52" y2="745.50" stroke="#1a1a1a" stroke-width="1.2"/>
<text x="505.52" y="756.90" font-size="8.4" text-anchor="middle" stroke="#1e1e1e">36</text>
<text x="264.60" y="772.10" font-size="10.4" textLength="66.20" lengthAdjust="spacingAndGlyphs" stroke="#1e1e1e">Time (months)</text>
<text x="119.20" y="710.70" font-size="9.0" textLength="36.90" lengthAdjust="spacingAndGlyphs" stroke="#1e1e1e">Treatment</text>
<line x1="87.50" y1="721.20" x2="113.10" y2="721.20" stroke="#3d5b94" stroke-width="1.3"/>
<line x1="87.50" y1="734.10" x2="113.10" y2="734.10" stroke="#b51a45" stroke-width="1.3" stroke-dasharray="4.3 3.3"/>
<text x="116.70" y="723.60" font-size="9.0" textLength="106.60" lengthAdjust="spacingAndGlyphs" stroke="#1e1e1e">Duvelisib 25 mg BID (N = 160)</text>
<text x="116.70" y="736.50" font-size="9.0" textLength="82.70" lengthAdjust="spacingAndGlyphs" stroke="#1e1e1e">Ofatumumab (N = 159)</text>
<path d="M84.5,570.8 H103.3 V574.2 H110.8 V576.5 H112.2 V578.6 H113.4 V581.7 H120.4 V585.2 H121.8 V588.7 H122.6 V592.7 H124.1 V595.9 H125.3 V598.5 H126.8 V600.5 H148.9 V605.5 H153.3 V609.8 H157.1 V614.7 H189 V624 H192.5 V629.2 H204.5 V635.2 H207.9 V640.2 H211.4 V651.2 H246.1 V656.9 H278.8 V664.1 H293.6 V673.3 H340.6 V683.1 H349.2 V702.3 H383.7 V722.1 H472.9" fill="none" stroke="#3d5b94" stroke-width="1.2"/>
<path d="M84.5,570.8 H90.7 V573.7 H95.3 V577.7 H96.4 V581.7 H99.9 V585.2 H100.5 V589.2 H122.4 V591.3 H125.6 V593.3 H132.8 V596.9 H140.6 V600.6 H144 V609.8 H147.5 V619.6 H148.7 V629.2 H176.5 V634 H179.5 V637.8 H186.8 V645.5 H191.8 V649 H194.5 V657.5 H197.5 V665.8 H206 V669.5 H211.2 V676 H213.3 V685.2 H232.7 V690.8 H234.2 V697 H235.5 V703.8 H237.3 V710 H240.4 V721.8 H274.2 V726.2 H280.4 V731.1 H296.5 V736.5 H356.3 V741" fill="none" stroke="#b51a45" stroke-width="1.3" stroke-dasharray="4.6 3.0"/>
<path d="M127.30,598.70V602.30M125.70,600.50H128.90" stroke="#3d5b94" stroke-width="0.95" fill="none"/>
<path d="M131.50,598.70V602.30M129.90,600.50H133.10" stroke="#3d5b94" stroke-width="0.95" fill="none"/>
<path d="M145.50,598.70V602.30M143.90,600.50H147.10" stroke="#3d5b94" stroke-width="0.95" fill="none"/>
<path d="M148.10,598.70V602.30M146.50,600.50H149.70" stroke="#3d5b94" stroke-width="0.95" fill="none"/>
<path d="M153.80,608.00V611.60M152.20,609.80H155.40" stroke="#3d5b94" stroke-width="0.95" fill="none"/>
<path d="M158.50,612.90V616.50M156.90,614.70H160.10" stroke="#3d5b94" stroke-width="0.95" fill="none"/>
<path d="M190.00,622.20V625.80M188.40,624.00H191.60" stroke="#3d5b94" stroke-width="0.95" fill="none"/>
<path d="M233.70,649.40V653.00M232.10,651.20H235.30" stroke="#3d5b94" stroke-width="0.95" fill="none"/>
<path d="M264.70,655.10V658.70M263.10,656.90H266.30" stroke="#3d5b94" stroke-width="0.95" fill="none"/>
<path d="M277.30,655.10V658.70M275.70,656.90H278.90" stroke="#3d5b94" stroke-width="0.95" fill="none"/>
<path d="M278.80,655.10V658.70M277.20,656.90H280.40" stroke="#3d5b94" stroke-width="0.95" fill="none"/>
<path d="M281.20,662.30V665.90M279.60,664.10H282.80" stroke="#3d5b94" stroke-width="0.95" fill="none"/>
<path d="M297.30,671.50V675.10M295.70,673.30H298.90" stroke="#3d5b94" stroke-width="0.95" fill="none"/>
<path d="M340.60,681.30V684.90M339.00,683.10H342.20" stroke="#3d5b94" stroke-width="0.95" fill="none"/>
<path d="M472.90,720.30V723.90M471.30,722.10H474.50" stroke="#3d5b94" stroke-width="0.95" fill="none"/>
<path d="M95.30,571.90V575.50M93.70,573.70H96.90" stroke="#b51a45" stroke-width="0.95" fill="none"/>
<path d="M105.70,587.40V591.00M104.10,589.20H107.30" stroke="#b51a45" stroke-width="0.95" fill="none"/>
<path d="M110.60,587.40V591.00M109.00,589.20H112.20" stroke="#b51a45" stroke-width="0.95" fill="none"/>
<path d="M137.50,595.10V598.70M135.90,596.90H139.10" stroke="#b51a45" stroke-width="0.95" fill="none"/>
<path d="M278.00,724.40V728.00M276.40,726.20H279.60" stroke="#b51a45" stroke-width="0.95" fill="none"/>
<text x="19.50" y="786.60" font-size="8.4" textLength="56.00" lengthAdjust="spacingAndGlyphs" stroke="#1e1e1e">Number at Risk:</text>
<text x="84.50" y="786.60" font-size="8.4" text-anchor="middle" fill="#3c5b9b">48</text>
<text x="119.59" y="786.60" font-size="8.4" text-anchor="middle" fill="#3c5b9b">43</text>
<text x="154.67" y="786.60" font-size="8.4" text-anchor="middle" fill="#3c5b9b">28</text>
<text x="189.75" y="786.60" font-size="8.4" text-anchor="middle" fill="#3c5b9b">24</text>
<text x="224.84" y="786.60" font-size="8.4" text-anchor="middle" fill="#3c5b9b">17</text>
<text x="259.93" y="786.60" font-size="8.4" text-anchor="middle" fill="#3c5b9b">15</text>
<text x="295.01" y="786.60" font-size="8.4" text-anchor="middle" fill="#3c5b9b">8</text>
<text x="330.10" y="786.60" font-size="8.4" text-anchor="middle" fill="#3c5b9b">7</text>
<text x="365.18" y="786.60" font-size="8.4" text-anchor="middle" fill="#3c5b9b">2</text>
<text x="400.26" y="786.60" font-size="8.4" text-anchor="middle" fill="#3c5b9b">1</text>
<text x="435.35" y="786.60" font-size="8.4" text-anchor="middle" fill="#3c5b9b">1</text>
<text x="470.44" y="786.60" font-size="8.4" text-anchor="middle" fill="#3c5b9b">1</text>
<text x="505.52" y="786.60" font-size="8.4" text-anchor="middle" fill="#3c5b9b">0</text>
<text x="84.50" y="797.60" font-size="8.4" text-anchor="middle" fill="#b3143f">52</text>
<text x="119.59" y="797.60" font-size="8.4" text-anchor="middle" fill="#b3143f">39</text>
<text x="154.67" y="797.60" font-size="8.4" text-anchor="middle" fill="#b3143f">28</text>
<text x="189.75" y="797.60" font-size="8.4" text-anchor="middle" fill="#b3143f">24</text>
<text x="224.84" y="797.60" font-size="8.4" text-anchor="middle" fill="#b3143f">14</text>
<text x="259.93" y="797.60" font-size="8.4" text-anchor="middle" fill="#b3143f">5</text>
<text x="295.01" y="797.60" font-size="8.4" text-anchor="middle" fill="#b3143f">2</text>
<text x="330.10" y="797.60" font-size="8.4" text-anchor="middle" fill="#b3143f">1</text>
<text x="365.18" y="797.60" font-size="8.4" text-anchor="middle" fill="#b3143f">0</text>
<text x="446.80" y="578.90" font-size="8.4" textLength="15.80" lengthAdjust="spacingAndGlyphs" stroke="#1e1e1e">DUV</text>
<text x="487.70" y="578.90" font-size="8.4" textLength="14.30" lengthAdjust="spacingAndGlyphs" stroke="#1e1e1e">OFA</text>
<text x="348.80" y="589.30" font-size="8.4" textLength="75.90" lengthAdjust="spacingAndGlyphs" stroke="#1e1e1e">Median PFS (months)</text>
<text x="348.80" y="599.70" font-size="8.4" textLength="24.40" lengthAdjust="spacingAndGlyphs" stroke="#1e1e1e">95% CI</text>
<text x="348.80" y="610.00" font-size="8.4" textLength="45.10" lengthAdjust="spacingAndGlyphs" stroke="#1e1e1e">Hazard Ratio</text>
<text x="348.80" y="620.40" font-size="8.4" textLength="26.20" lengthAdjust="spacingAndGlyphs" stroke="#1e1e1e">p-value</text>
<text x="447.40" y="589.30" font-size="8.4" textLength="14.90" lengthAdjust="spacingAndGlyphs" stroke="#1e1e1e">13.8</text>
<text x="489.50" y="589.30" font-size="8.4" textLength="11.00" lengthAdjust="spacingAndGlyphs" stroke="#1e1e1e">9.5</text>
<text x="440.00" y="599.70" font-size="8.4" textLength="28.50" lengthAdjust="spacingAndGlyphs" stroke="#1e1e1e">9.2, 22.7</text>
<text x="480.80" y="599.70" font-size="8.4" textLength="28.40" lengthAdjust="spacingAndGlyphs" stroke="#1e1e1e">5.6, 11.0</text>
<text x="466.20" y="612.80" font-size="8.4" textLength="13.80" lengthAdjust="spacingAndGlyphs" stroke="#1e1e1e">0.41</text>
<text x="462.00" y="623.10" font-size="8.4" textLength="22.90" lengthAdjust="spacingAndGlyphs" stroke="#1e1e1e">0.0003</text>
<rect x="0.75" y="0.75" width="518.5" height="806.3" fill="none" stroke="#1a1a1a" stroke-width="1.6"/>
</svg>
</body></html>
